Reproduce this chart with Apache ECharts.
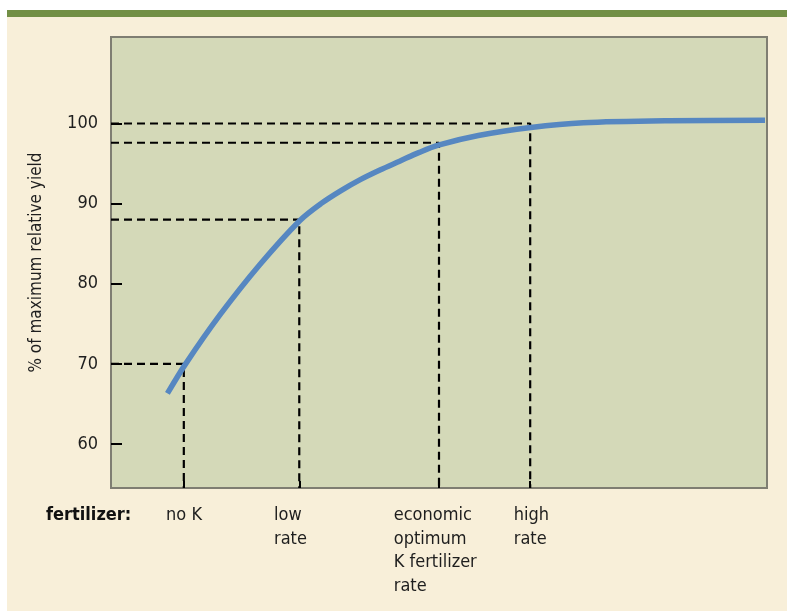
<!DOCTYPE html>
<html>
<head>
<meta charset="utf-8">
<script src="https://cdn.jsdelivr.net/npm/echarts@6/dist/echarts.min.js"></script>
<style>
  html, body { margin: 0; padding: 0; background: #ffffff; }
  .panel {
    position: absolute; left: 7px; top: 10px; width: 780px; height: 594px;
    background: #f8efd9; border-top: 7px solid #728f45;
  }
  #chart { position: absolute; left: 0; top: 0; width: 787px; height: 611px; }
</style>
</head>
<body>
<div class="panel"></div>
<div id="chart"></div>
<script>
// yield response curve (x = relative K rate, y = % of max yield)
const curveX = [8.6, 11.3, 16.6, 22.7, 28.8, 32.0, 35.0, 38.0, 41.0, 44.0, 47.0, 49.9, 56.0, 64.0, 72.0, 85.0, 99.7]
const curveY = [66.3, 69.9, 76.1, 82.4, 87.9, 90.0, 91.6, 93.0, 94.2, 95.3, 96.4, 97.3, 98.5, 99.5, 100.1, 100.35, 100.4]

// fertilizer rates marked by dashed guides
const markerX = [11.1, 28.7, 50.0, 63.9]
const markerY = [70, 88, 97.6, 100]
const labelX = [8.4, 24.85, 43.1, 61.4]
const labelText = ['no K', 'low\nrate', 'economic\noptimum\nK fertilizer\nrate', 'high\nrate']

const yTicks = [60, 70, 80, 90, 100]
const yMin = 54.5
const yMax = 110.8

const font = '"Liberation Sans Narrow", "DejaVu Sans Condensed", "Open Sans", sans-serif'

const chart = echarts.init(document.getElementById('chart'))

const guideSeries = markerX.map((x, i) => ({
  type: 'line',
  data: [[0, markerY[i]], [x, markerY[i]], [x, yMin]],
  symbol: 'none',
  silent: true,
  z: 3,
  lineStyle: { color: '#000', width: 2.2, type: [8, 5] }
}))

const option = {
  animation: false,
  backgroundColor: 'transparent',
  grid: {
    left: 111, top: 37, right: 20, bottom: 123,
    show: true,
    backgroundColor: '#d4d9b8',
    borderColor: '#7f7e72',
    borderWidth: 2
  },
  xAxis: {
    type: 'value',
    min: 0,
    max: 100,
    axisLine: { show: false },
    splitLine: { show: false },
    axisTick: {
      show: true, inside: true, length: 7,
      customValues: markerX,
      lineStyle: { color: '#000', width: 2 }
    },
    axisLabel: {
      customValues: labelX,
      align: 'left',
      verticalAlign: 'top',
      margin: 16,
      fontFamily: font,
      fontSize: 18,
      lineHeight: 23.5,
      color: '#1e1e1e',
      formatter: v => labelText[labelX.indexOf(v)] || ''
    }
  },
  yAxis: {
    type: 'value',
    min: yMin,
    max: yMax,
    name: '% of maximum relative yield',
    nameLocation: 'middle',
    nameGap: 66,
    nameRotate: 90,
    nameTextStyle: { fontFamily: font, fontSize: 17, color: '#1e1e1e' },
    axisLine: { show: false },
    splitLine: { show: false },
    axisTick: {
      show: true, inside: true, length: 11,
      customValues: yTicks,
      lineStyle: { color: '#000', width: 2 }
    },
    axisLabel: {
      customValues: yTicks,
      margin: 13,
      fontFamily: font,
      fontSize: 18,
      color: '#1e1e1e'
    }
  },
  graphic: [{
    type: 'text',
    left: 46,
    top: 506,
    style: { text: 'fertilizer:', font: 'bold 18px ' + font, fill: '#111' }
  }],
  series: [
    ...guideSeries,
    {
      type: 'line',
      data: curveX.map((x, i) => [x, curveY[i]]),
      smooth: 0.3,
      symbol: 'none',
      z: 5,
      lineStyle: { color: '#5687c1', width: 5.5 }
    }
  ]
}

chart.setOption(option)
</script>
</body>
</html>
